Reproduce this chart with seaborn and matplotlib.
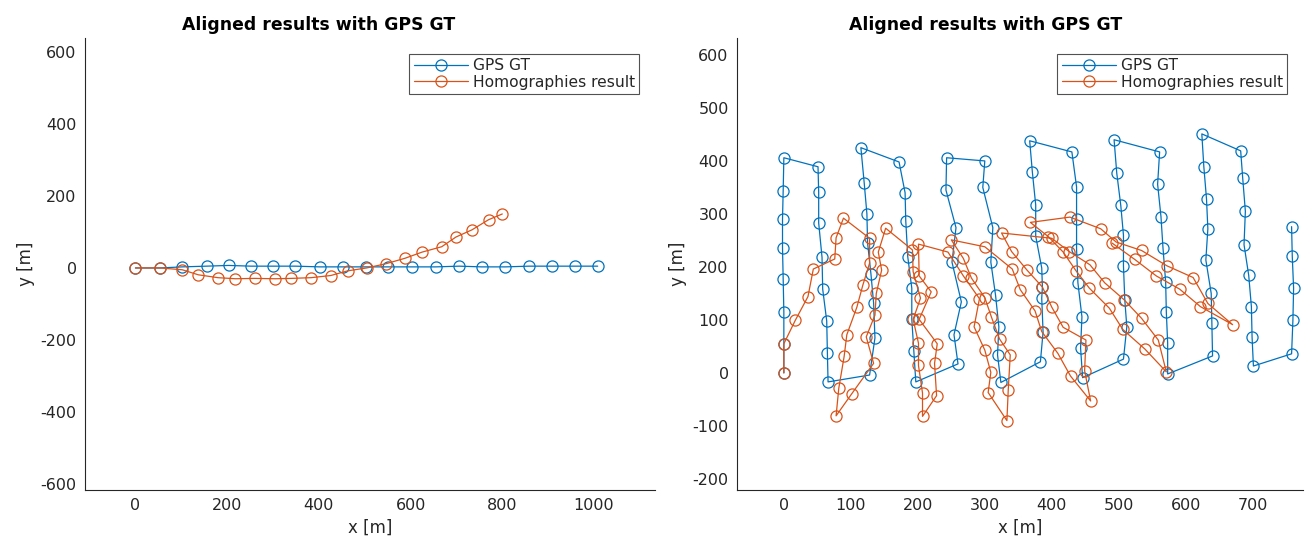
import numpy as np
import pandas as pd
import seaborn as sns
import matplotlib.pyplot as plt

# ---------------- data ----------------
# left panel: straight pass
left_gps_x = [0, 54, 102, 155, 203, 252, 300, 349, 402, 453, 503, 550, 603, 655, 706, 755, 807, 858, 909, 959, 1008]
left_gps_y = [0, 0, 3, 5, 7, 5, 5, 5, 3, 3, 3, 3, 3, 3, 5, 3, 3, 5, 5, 5, 5]
left_hom_x = [0, 54, 102, 137, 180, 218, 260, 305, 340, 383, 426, 463, 504, 547, 588, 625, 668, 699, 734, 770, 800]
left_hom_y = [0, 0, -5, -19, -27, -30, -29, -30, -29, -27, -21, -8, 0, 12, 27, 44, 59, 86, 106, 134, 150]

# right panel: lawnmower pattern
right_gps_x = [0, 0, 0, -1, -2, -2, -1, 0,
               51, 52, 52, 57, 58, 64, 65, 66,
               128, 136, 134, 130, 125, 124, 120, 115,
               172, 181, 182, 185, 191, 191, 194, 197,
               260, 254, 265, 251, 257, 242, 243,
               300, 297, 312, 309, 316, 321, 319, 324,
               383, 387, 385, 386, 385, 376, 376, 371, 367,
               430, 437, 437, 437, 439, 445, 443, 446,
               507, 512, 509, 507, 507, 503, 497, 493,
               561, 558, 563, 566, 570, 571, 573, 573,
               640, 639, 638, 630, 633, 631, 627, 624,
               682, 685, 689, 687, 694, 698, 699, 701,
               758, 760, 761, 759, 758]
right_gps_y = [0, 55, 115, 177, 236, 290, 344, 406,
               389, 341, 283, 218, 158, 98, 38, -17,
               -4, 66, 132, 187, 245, 300, 358, 425,
               398, 340, 287, 219, 160, 102, 42, -17,
               17, 72, 134, 209, 274, 345, 406,
               400, 350, 274, 209, 147, 87, 34, -18,
               21, 77, 141, 162, 198, 258, 317, 379, 438,
               417, 351, 291, 234, 170, 106, 47, -9,
               26, 87, 138, 202, 260, 316, 377, 440,
               417, 356, 295, 236, 172, 115, 56, -2,
               32, 94, 150, 213, 272, 328, 389, 451,
               419, 368, 305, 242, 184, 125, 68, 13,
               36, 100, 160, 221, 276]
right_hom_x = [0, 0, 17, 36, 44, 76, 78, 89,
               128, 128, 118, 109, 94, 90, 82, 78,
               101, 134, 123, 136, 138, 146, 141, 152,
               192, 193, 204, 193, 201, 201, 207, 207,
               228, 225, 229, 202, 220, 202, 201,
               245, 268, 292, 284, 300, 309, 305, 333,
               335, 338, 322, 310, 300, 280, 268, 250,
               300, 341, 353, 375, 385, 409, 428, 458,
               449, 451, 417, 400, 386, 363, 340, 325,
               400, 426, 457, 479, 508, 534, 559, 571,
               539, 506, 486, 456, 436, 417, 395, 368,
               427, 473, 496, 534, 572, 611, 633, 670,
               622, 591, 556, 524, 490]
right_hom_y = [0, 55, 99, 144, 196, 215, 255, 292,
               254, 207, 166, 124, 72, 31, -29, -81,
               -40, 18, 68, 109, 150, 194, 228, 273,
               232, 191, 141, 101, 56, 14, -38, -82,
               -43, 18, 55, 101, 153, 183, 243,
               228, 183, 140, 87, 43, 1, -37, -90,
               -32, 34, 64, 105, 142, 179, 216, 251,
               238, 196, 157, 117, 78, 37, -6, -53,
               4, 62, 86, 124, 162, 194, 229, 264,
               254, 229, 204, 170, 138, 103, 62, 2,
               45, 82, 122, 160, 193, 228, 257, 284,
               294, 272, 247, 231, 202, 180, 131, 91,
               125, 158, 183, 214, 245]

blue = '#0072BD'
orange = '#D95319'

sns.set_style('white')
plt.rcParams['font.family'] = ['DejaVu Sans']
plt.rcParams['axes.unicode_minus'] = False

fig = plt.figure(figsize=(13.16, 5.45), dpi=100)
ax0 = fig.add_axes([0.0646, 0.1009, 0.4331, 0.8294])
ax1 = fig.add_axes([0.5600, 0.1009, 0.4301, 0.8294])


def draw(ax, gx, gy, hx, hy, title_x):
    for x, y, c, lab in [(gx, gy, blue, 'GPS GT'), (hx, hy, orange, 'Homographies result')]:
        df = pd.DataFrame({'x': x, 'y': y})
        sns.lineplot(data=df, x='x', y='y', sort=False, estimator=None, ax=ax,
                     color=c, lw=0.9, marker='o', ms=8, mfc='none', mec=c,
                     mew=0.9, label=lab)
    ax.set_title('Aligned results with GPS GT', fontsize=12.4, fontweight='bold',
                 color='black', x=title_x)
    ax.set_xlabel('x [m]', fontsize=12, color='#262626')
    ax.set_ylabel('y [m]', fontsize=12, color='#262626')
    for s in ['top', 'right']:
        ax.spines[s].set_visible(False)
    for s in ['left', 'bottom']:
        ax.spines[s].set_color('#262626')
        ax.spines[s].set_linewidth(0.8)
    ax.tick_params(direction='in', length=4, width=0.6, labelsize=11.5, colors='#262626', pad=6)
    leg = ax.legend(loc='upper right', fontsize=11.2, frameon=True, fancybox=False,
                    edgecolor='#262626', borderpad=0.3, labelspacing=0.1,
                    handlelength=3.5, handletextpad=0.3, borderaxespad=1.0)
    leg.get_frame().set_linewidth(0.8)


draw(ax0, left_gps_x, left_gps_y, left_hom_x, left_hom_y, 0.41)
ax0.set_xlim(-110, 1133)
ax0.set_ylim(-617, 639)
ax0.set_xticks(np.arange(0, 1001, 200))
ax0.set_yticks(np.arange(-600, 601, 200))

draw(ax1, right_gps_x, right_gps_y, right_hom_x, right_hom_y, 0.44)
ax1.set_xlim(-70, 775)
ax1.set_ylim(-221, 632)
ax1.set_xticks(np.arange(0, 701, 100))
ax1.set_yticks(np.arange(-200, 601, 100))

fig.savefig('out.png', dpi=100)
